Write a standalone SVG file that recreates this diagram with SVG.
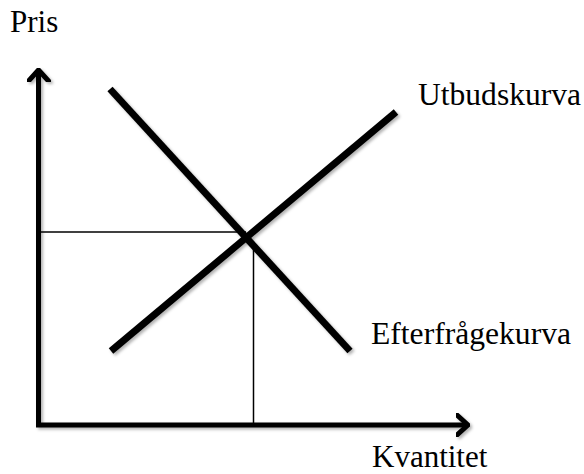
<svg xmlns="http://www.w3.org/2000/svg" width="584" height="474" viewBox="0 0 584 474">
<defs>
<filter id="sh" x="-10%" y="-10%" width="130%" height="130%">
<feDropShadow dx="2" dy="2" stdDeviation="1.5" flood-color="#000" flood-opacity="0.3"/>
</filter>
<marker id="arr" viewBox="0 0 14 24" refX="12" refY="12" markerWidth="14" markerHeight="24" markerUnits="userSpaceOnUse" orient="auto-start-reverse">
<polyline points="1,2 12,12 1,22" fill="none" stroke="#000" stroke-width="5" stroke-linecap="round" stroke-linejoin="round"/>
</marker>
</defs>
<style>
.thick{stroke:#000;stroke-width:7;fill:none;filter:url(#sh)}
.axis{stroke:#000;stroke-width:5;fill:none;stroke-linejoin:miter;filter:url(#sh)}
.thin{stroke:#000;stroke-width:1.5;fill:none}
text{font-family:"Liberation Serif","Times New Roman",serif;font-size:31px;fill:#000}
</style>
<g id="connectors">
<polyline id="axes" class="axis" points="38.5,70 38.5,425 468,425" marker-start="url(#arr)" marker-end="url(#arr)"/>
<line class="thin" x1="38.5" y1="232" x2="246" y2="232"/>
<line class="thin" x1="253.5" y1="242" x2="253.5" y2="425"/>
</g>
<g id="demand"><line class="thick" x1="110" y1="89" x2="350" y2="351"/></g>
<g id="supply"><line class="thick" x1="111" y1="351" x2="396" y2="112"/></g>
<g id="label-pris"><text x="10" y="32">Pris</text></g>
<g id="label-utbud"><text x="418" y="105" textLength="163" lengthAdjust="spacingAndGlyphs">Utbudskurva</text></g>
<g id="label-efterfragan"><text x="371" y="344" textLength="200" lengthAdjust="spacingAndGlyphs">Efterfrågekurva</text></g>
<g id="label-kvantitet"><text x="372" y="467">Kvantitet</text></g>
</svg>
